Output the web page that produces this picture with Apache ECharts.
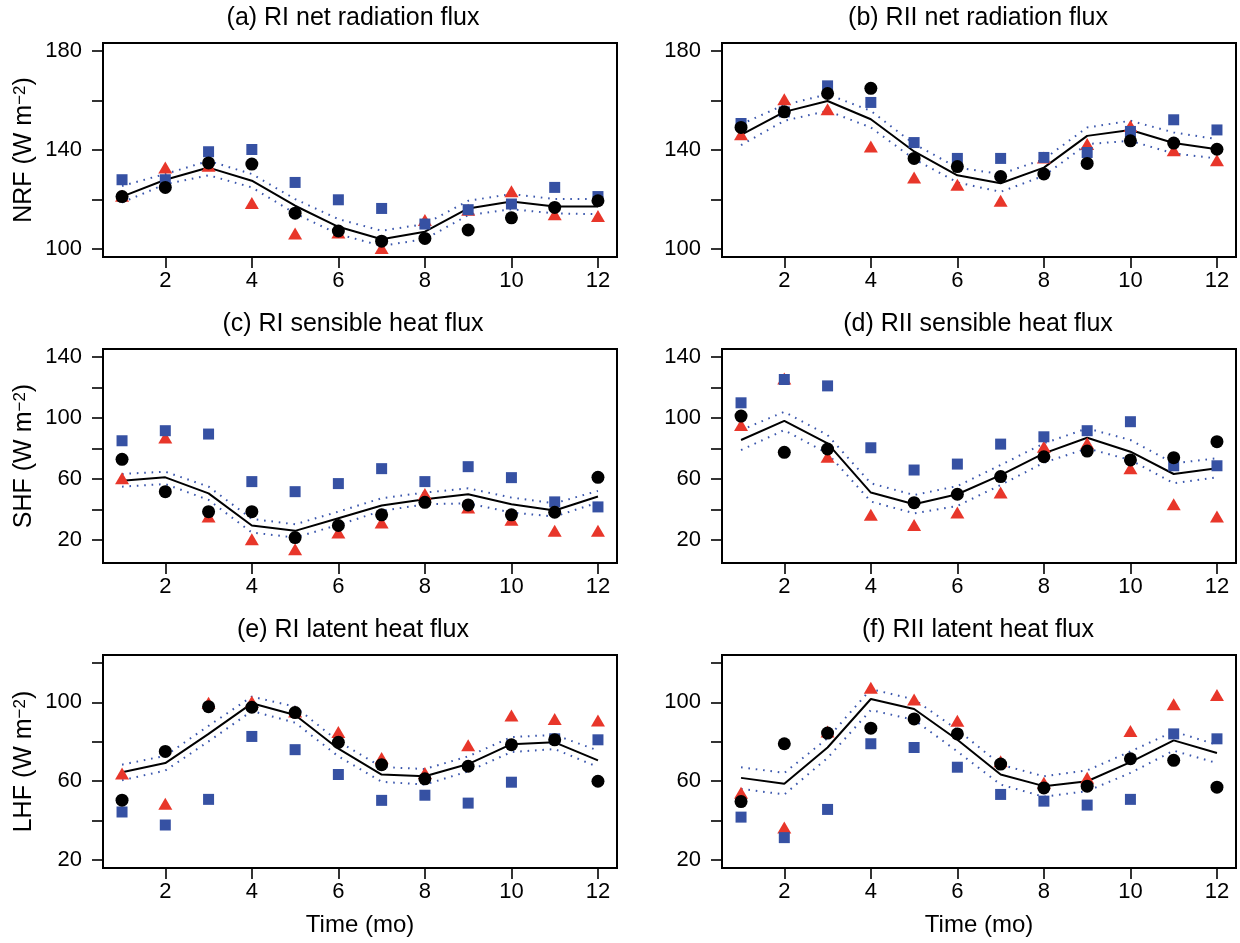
<!DOCTYPE html>
<html><head><meta charset="utf-8">
<script src="https://cdn.jsdelivr.net/npm/echarts@6/dist/echarts.min.js"></script>
<style>html,body{margin:0;padding:0;background:#fff}#c{width:1240px;height:943px}</style>
</head><body><div id="c"></div>
<script>
// ---------- data ----------
const months = [1,2,3,4,5,6,7,8,9,10,11,12];
const xTickValues = [2,4,6,8,10,12];

const titles = ['(a) RI net radiation flux','(b) RII net radiation flux','(c) RI sensible heat flux','(d) RII sensible heat flux','(e) RI latent heat flux','(f) RII latent heat flux'];
const yNames = ['NRF','SHF','LHF'];
const xName = 'Time (mo)';

const nrfTicks = [100,120,140,160,180], nrfLabels = [100,140,180];
const shfTicks = [20,40,60,80,100,120,140], shfLabels = [20,60,100,140];
const lhfTicks = [20,40,60,80,100,120], lhfLabels = [20,60,100];

// (a) RI net radiation flux
const aMean  = [121.2,128.0,132.9,127.6,117.5,109.0,104.0,107.0,116.4,119.2,117.2,117.2];
const aUpper = [125.5,130.3,135.6,130.3,120.2,112.1,107.4,110.1,119.5,122.2,120.2,120.2];
const aLower = [118.8,126.2,129.8,124.9,114.4,106.0,101.3,104.0,113.7,116.1,114.4,114.1];
const aCirc  = [121.2,124.9,134.8,134.3,114.5,107.3,103.2,104.3,107.7,112.6,116.8,119.5];
const aTri   = [121.5,132.9,133.6,118.6,106.3,106.7,100.4,111.7,115.9,123.3,114.1,113.4];
const aSq    = [128.0,128.0,139.3,140.2,126.9,119.9,116.4,110.1,115.9,118.2,124.9,121.2];
// (b) RII net radiation flux
const bMean  = [146.1,155.4,159.8,152.4,139.4,129.8,126.6,132.9,145.7,148.1,142.8,140.3];
const bUpper = [150.4,158.2,162.5,155.8,142.4,132.9,130.3,136.3,149.1,151.8,147.1,144.4];
const bLower = [142.0,151.8,155.8,149.1,136.3,126.9,123.1,129.6,142.4,143.7,138.6,136.6];
const bCirc  = [149.1,155.4,162.8,164.9,136.6,133.3,129.3,130.3,134.6,143.7,142.8,140.3];
const bTri   = [146.4,160.5,156.5,141.4,128.9,126.0,119.5,137.0,142.4,149.7,139.9,135.9];
const bSq    = [150.7,155.4,165.9,159.2,143.0,136.6,136.6,137.0,139.0,147.5,152.2,148.1];
// (c) RI sensible heat flux
const cMean  = [58.8,61.0,50.5,29.4,25.9,34.2,42.5,46.6,49.9,43.3,39.2,48.4];
const cUpper = [63.2,64.7,54.9,33.7,30.2,38.5,47.3,51.0,53.8,47.7,44.0,52.1];
const cLower = [54.9,56.6,46.2,24.8,21.5,29.8,39.0,43.3,44.0,37.9,35.3,44.4];
const cCirc  = [72.8,51.6,38.5,38.5,21.5,29.4,36.4,44.6,42.9,36.4,38.1,61.0];
const cTri   = [60.4,87.2,35.3,20.4,13.9,24.8,31.3,50.1,41.2,33.1,25.9,25.9];
const cSq    = [85.0,91.6,89.4,58.2,51.6,56.9,66.7,58.2,68.0,60.8,44.9,41.6];
// (d) RII sensible heat flux
const dMean  = [85.5,98.1,83.3,51.0,43.3,49.9,62.5,76.7,87.0,77.8,63.2,66.9];
const dUpper = [92.0,104.0,88.7,57.1,49.4,55.3,69.1,83.3,93.1,85.5,70.2,73.5];
const dLower = [78.9,92.0,76.7,45.1,37.4,42.2,56.0,70.6,80.0,72.4,57.1,61.0];
const dCirc  = [101.2,77.4,79.6,null,44.4,49.9,61.5,74.5,78.2,72.4,73.9,84.4];
const dTri   = [95.3,125.8,74.5,36.4,29.8,37.9,51.0,81.1,83.3,66.9,43.3,35.3];
const dSq    = [109.9,125.2,121.0,80.4,65.8,69.7,82.8,87.6,91.6,97.5,68.6,68.6];
// (e) RI latent heat flux
const eMean  = [64.5,69.2,84.0,99.5,93.6,76.5,63.4,62.5,68.7,78.8,79.7,70.6];
const eUpper = [68.4,72.9,88.1,102.9,97.8,80.2,67.2,66.2,72.6,82.4,83.5,75.6];
const eLower = [60.5,65.4,80.2,95.6,89.7,72.6,59.7,58.3,65.0,74.8,76.3,67.2];
const eCirc  = [50.4,75.1,97.8,97.5,94.8,79.7,68.4,61.2,67.6,78.5,81.0,60.0];
const eTri   = [63.9,48.6,99.8,100.3,95.3,84.9,71.8,64.2,78.2,93.3,91.6,90.8];
const eSq    = [44.4,37.8,50.8,82.7,76.0,63.4,50.3,52.9,48.9,59.5,81.5,81.0];
// (f) RII latent heat flux
const fMean  = [61.7,58.7,77.1,101.7,96.6,81.0,63.4,57.5,60.0,69.7,80.7,74.3];
const fUpper = [67.1,64.2,81.8,106.7,101.5,86.1,68.4,62.5,65.5,75.1,85.2,78.5];
const fLower = [56.1,53.3,71.8,96.1,91.1,75.1,58.3,52.1,55.0,64.2,75.5,69.2];
const fCirc  = [49.7,79.0,84.4,86.9,91.6,84.0,68.7,56.6,57.5,71.4,70.6,57.0];
const fTri   = [54.1,36.5,85.2,107.4,101.5,90.6,70.1,59.2,61.7,85.5,99.0,103.7];
const fSq    = [41.8,31.4,45.7,79.0,77.1,67.1,53.3,49.9,47.9,50.8,84.0,81.5];

// ---------- layout ----------
const FONT = "'Liberation Sans', Arial, Helvetica, sans-serif";
const colLeft = [103, 722], colWidth = [514, 514];
const rowTop = [43, 349, 655], rowHeight = [214, 214, 213];
const titleX = [353, 978], titleTop = [6, 312, 618];
const yRanges = [[96.8,183.2],[4.8,145.2],[16,124]];
const yTickSets = [[nrfTicks,nrfLabels],[shfTicks,shfLabels],[lhfTicks,lhfLabels]];
const panelData = [
  [aMean,aUpper,aLower,aCirc,aTri,aSq],[bMean,bUpper,bLower,bCirc,bTri,bSq],
  [cMean,cUpper,cLower,cCirc,cTri,cSq],[dMean,dUpper,dLower,dCirc,dTri,dSq],
  [eMean,eUpper,eLower,eCirc,eTri,eSq],[fMean,fUpper,fLower,fCirc,fTri,fSq]
];
const RED = '#e8362a', BLUE = '#3651a3', DOT = '#3b57ad';

const pairs = arr => months.map((m,i)=>[m, arr[i]]).filter(p => p[1] !== null);

const option = {animation:false, backgroundColor:'#fff', title:[], grid:[], xAxis:[], yAxis:[], series:[]};

for (let p = 0; p < 6; p++) {
  const row = Math.floor(p/2), col = p % 2;
  option.title.push({text: titles[p], left: titleX[col], top: titleTop[row], textAlign:'center', padding:0,
    textStyle:{fontFamily:FONT, fontSize:25, fontWeight:'normal', color:'#000'}});
  option.grid.push({left: colLeft[col], top: rowTop[row], width: colWidth[col], height: rowHeight[row],
    show:true, borderColor:'#000', borderWidth:2, backgroundColor:'transparent'});
  option.xAxis.push({type:'value', gridIndex:p, min:0.56, max:12.44,
    name: row === 2 ? xName : '', nameLocation:'middle', nameGap:45,
    nameTextStyle:{fontFamily:FONT, fontSize:24, color:'#000'},
    axisLine:{show:true, onZero:false, lineStyle:{color:'#000', width:2}},
    axisTick:{show:true, length:11, customValues:xTickValues, lineStyle:{color:'#000', width:1.6}},
    axisLabel:{customValues:xTickValues, margin:13, fontFamily:FONT, fontSize:22, color:'#000'},
    splitLine:{show:false}});
  const [tk, lb] = yTickSets[row];
  option.yAxis.push({type:'value', gridIndex:p, min:yRanges[row][0], max:yRanges[row][1],
    name: col === 0 ? '{t|' + yNames[row] + ' (W m}{s|−2}{t|)}' : '', nameLocation:'middle', nameGap:66, nameRotate:90,
    nameTextStyle:{fontFamily:FONT, fontSize:25, color:'#000',
      rich:{t:{fontFamily:FONT, fontSize:25, color:'#000'}, s:{fontFamily:FONT, fontSize:17, color:'#000', verticalAlign:'top'}}},
    axisLine:{show:true, onZero:false, lineStyle:{color:'#000', width:2}},
    axisTick:{show:true, length:11, customValues:tk, lineStyle:{color:'#000', width:1.6}},
    axisLabel:{customValues:lb, margin:21, fontFamily:FONT, fontSize:22, color:'#000'},
    splitLine:{show:false}});
  const [mean, up, lo, circ, tri, sq] = panelData[p];
  const base = {xAxisIndex:p, yAxisIndex:p, silent:true};
  option.series.push(Object.assign({type:'line', data:pairs(up), symbol:'none', z:2,
    lineStyle:{color:DOT, width:2, type:[1.6,5.8]}}, base));
  option.series.push(Object.assign({type:'line', data:pairs(lo), symbol:'none', z:2,
    lineStyle:{color:DOT, width:2, type:[1.6,5.8]}}, base));
  option.series.push(Object.assign({type:'line', data:pairs(mean), symbol:'none', z:3,
    lineStyle:{color:'#000', width:2}}, base));
  option.series.push(Object.assign({type:'scatter', data:pairs(tri), symbol:'triangle', symbolSize:[14,12], z:4,
    itemStyle:{color:RED, opacity:1}}, base));
  option.series.push(Object.assign({type:'scatter', data:pairs(sq), symbol:'rect', symbolSize:11, z:5,
    itemStyle:{color:BLUE, opacity:1}}, base));
  option.series.push(Object.assign({type:'scatter', data:pairs(circ), symbol:'circle', symbolSize:13, z:6,
    itemStyle:{color:'#000', opacity:1}}, base));
}

const chart = echarts.init(document.getElementById('c'), null, {renderer:'canvas'});
chart.setOption(option);
</script>
</body></html>
